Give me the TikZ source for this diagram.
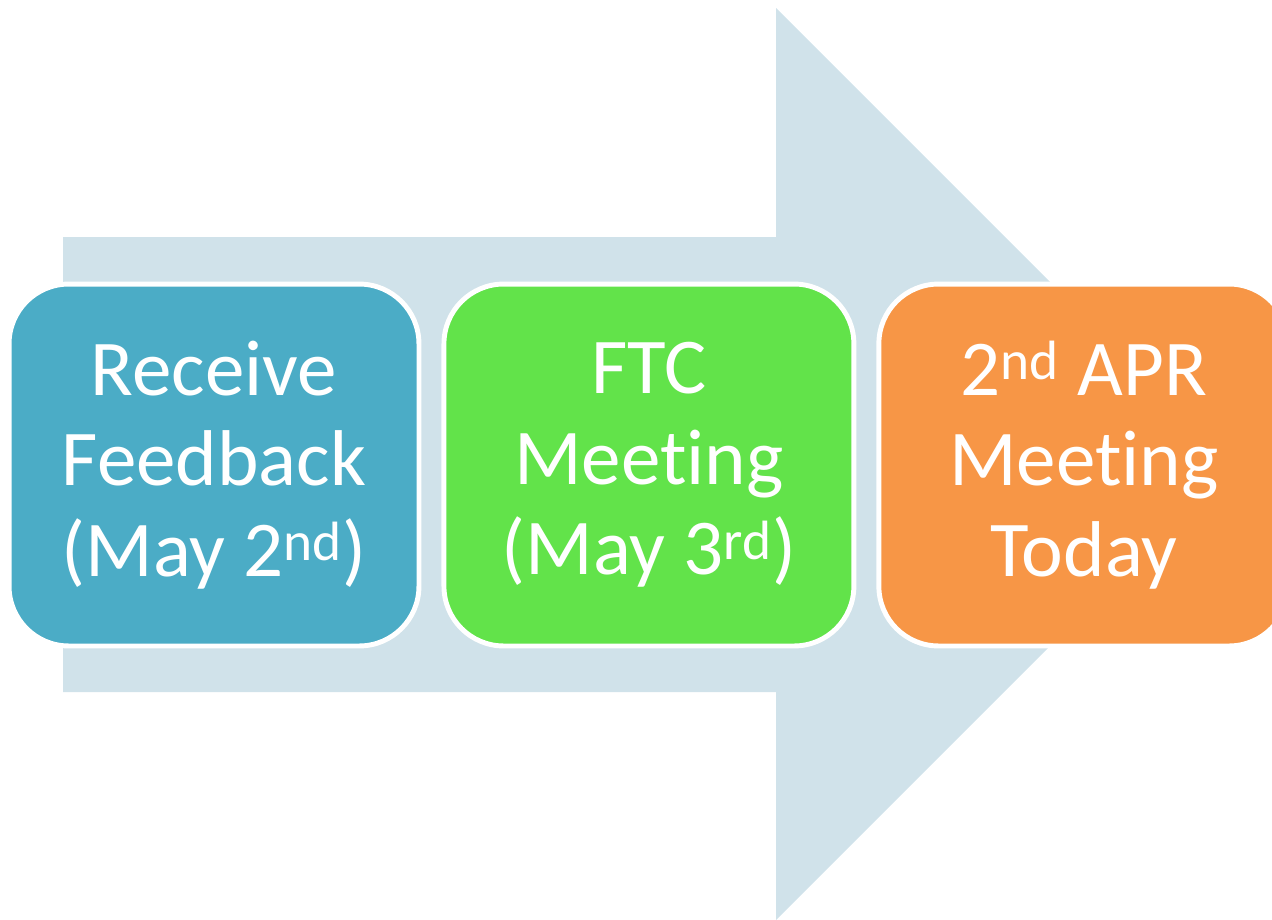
\documentclass[tikz,border=0pt]{standalone}
\usepackage{fontspec}
\setmainfont{Carlito}
\usepackage{tikz}
\usetikzlibrary{positioning}
\definecolor{feedbackblue}{HTML}{4BACC6}
\definecolor{ftcgreen}{HTML}{62E34A}
\definecolor{aprorange}{HTML}{F79646}
\definecolor{arrowback}{HTML}{D0E2EA}

\begin{document}
\begin{tikzpicture}[
    x=0.02cm, y=-0.02cm,
    node distance=8.7cm,
    stage/.style={rectangle, draw=white, line width=2.8pt, rounded corners=34pt, minimum width=8.2cm, minimum height=7.24cm, align=center, text=white, font=\fontsize{45}{51.6}\selectfont},
    blue stage/.style={stage, fill=feedbackblue},
    green stage/.style={stage, fill=ftcgreen},
    orange stage/.style={stage, fill=aprorange}
]
\useasboundingbox (0,0) rectangle (1272,920);
\clip (0,0) rectangle (1272,920);

% Background arrow
\fill [arrowback] (63,237) -- (776,237) -- (776,8) -- (1232,464) -- (776,920) -- (776,692) -- (63,692) -- cycle;

% Nodes
\node [blue stage] (feedback) at (214,465) {Receive\\Feedback\\(May 2\textsuperscript{nd})};
\node [green stage, right of=feedback] (ftc) {FTC\\Meet\kern0pt ing\\(May 3\textsuperscript{rd})};
\node [orange stage, right of=ftc] (apr) {2\textsuperscript{nd} APR\\Meet\kern0pt ing\\Today};

\end{tikzpicture}
\end{document}
